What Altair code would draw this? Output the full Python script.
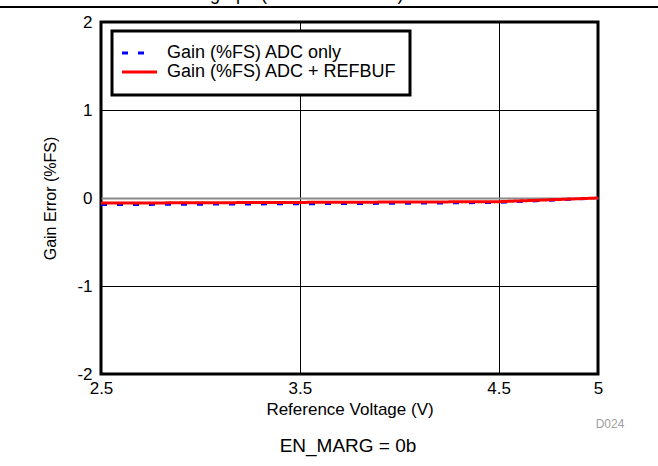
import altair as alt
import pandas as pd

# Data
vref = [2.5, 3.0, 3.5, 4.0, 4.5, 5.0]
gain_adc_only = [-0.075, -0.07, -0.065, -0.06, -0.05, 0.0]
gain_adc_refbuf = [-0.058, -0.054, -0.05, -0.046, -0.042, 0.0]
series_names = ["Gain (%FS) ADC only", "Gain (%FS) ADC + REFBUF"]
series_colors = ["#0000ff", "#ff0000"]
x_ticks = [2.5, 3.5, 4.5, 5]
y_ticks = [-2, -1, 0, 1, 2]

rows = []
for x, y in zip(vref, gain_adc_only):
    rows.append({"vref": x, "gain": y, "series": series_names[0]})
for x, y in zip(vref, gain_adc_refbuf):
    rows.append({"vref": x, "gain": y, "series": series_names[1]})
df = pd.DataFrame(rows)

FONT = "Liberation Sans"
W, H = 497, 352

xenc = alt.X("vref:Q", scale=alt.Scale(domain=[2.5, 5], nice=False, zero=False),
             axis=alt.Axis(values=x_ticks, labelExpr="'' + datum.value", title="Reference Voltage (V)",
                           ticks=False, domain=False, labelPadding=6, labelFlush=False, titlePadding=5,
                           labelFontSize=17, titleFontSize=17, labelFont=FONT, titleFont=FONT,
                           titleFontWeight="normal", labelColor="black", titleColor="black",
                           gridColor="black", gridWidth=1))
yenc = alt.Y("gain:Q", scale=alt.Scale(domain=[-2, 2], nice=False),
             axis=alt.Axis(values=y_ticks, labelExpr="'' + datum.value", title="Gain Error (%FS)",
                           ticks=False, domain=False, labelPadding=9, labelFlush=False, titlePadding=18,
                           labelFontSize=17, titleFontSize=16, labelFont=FONT, titleFont=FONT,
                           titleFontWeight="normal", labelColor="black", titleColor="black",
                           gridColor=alt.condition("datum.value === 0", alt.value("#8a8a8a"), alt.value("black")),
                           gridWidth=alt.condition("datum.value === 0", alt.value(2), alt.value(1))))

color = alt.Color("series:N", scale=alt.Scale(domain=series_names, range=series_colors), legend=None)
dash = alt.StrokeDash("series:N", scale=alt.Scale(domain=series_names, range=[[6, 10], [1, 0]]), legend=None)

blue = alt.Chart(df).transform_filter(alt.datum.series == series_names[0]).mark_line(
    strokeWidth=3, clip=True).encode(x=xenc, y=yenc, color=color, strokeDash=dash)
red = alt.Chart(df).transform_filter(alt.datum.series == series_names[1]).mark_line(
    strokeWidth=3, clip=True).encode(x=xenc, y=yenc, color=color, strokeDash=dash)

one = pd.DataFrame({"a": [0]})
# legend (drawn in pixel space, as a boxed key)
legend_box = alt.Chart(one).mark_rect(fill="white", stroke="black", strokeWidth=3).encode(
    x=alt.value(11), x2=alt.value(309), y=alt.value(9), y2=alt.value(73))
leg_sym1 = alt.Chart(one).mark_rule(color=series_colors[0], strokeWidth=3, strokeDash=[6, 10]).encode(
    x=alt.value(21), x2=alt.value(44), y=alt.value(31))
leg_sym2 = alt.Chart(one).mark_rule(color=series_colors[1], strokeWidth=3).encode(
    x=alt.value(21), x2=alt.value(56), y=alt.value(50))
leg_txt1 = alt.Chart(pd.DataFrame({"t": [series_names[0]]})).mark_text(
    align="left", baseline="middle", font=FONT, fontSize=18, color="black").encode(
    text="t:N", x=alt.value(66), y=alt.value(31))
leg_txt2 = alt.Chart(pd.DataFrame({"t": [series_names[1]]})).mark_text(
    align="left", baseline="middle", font=FONT, fontSize=18, color="black").encode(
    text="t:N", x=alt.value(66), y=alt.value(50))

top_rule = alt.Chart(one).mark_rule(color="black", strokeWidth=2).encode(
    x=alt.value(-101), x2=alt.value(557), y=alt.value(-15))
top_text = alt.Chart(pd.DataFrame({"t": ["Gain Error graph (ADC + REFBUF)"]})).mark_text(
    align="left", baseline="alphabetic", font=FONT, fontSize=18, color="black").encode(
    text="t:N", x=alt.value(21), y=alt.value(-22))
d_text = alt.Chart(pd.DataFrame({"t": ["D024"]})).mark_text(
    align="center", baseline="middle", font=FONT, fontSize=12, color="#a0a0a0").encode(
    text="t:N", x=alt.value(509), y=alt.value(402))
en_text = alt.Chart(pd.DataFrame({"t": ["EN_MARG = 0b"]})).mark_text(
    align="center", baseline="middle", font=FONT, fontSize=19, color="black").encode(
    text="t:N", x=alt.value(247), y=alt.value(424))

chart = alt.layer(blue, red, legend_box, leg_sym1, leg_sym2, leg_txt1, leg_txt2,
                  top_rule, top_text, d_text, en_text).properties(
    width=W, height=H, autosize="none",
    padding={"left": 101, "top": 22, "right": 60, "bottom": 92},
    background="white"
).configure_view(stroke="black", strokeWidth=3).configure_axis(grid=True)

chart.save("out.html", embed_options={"renderer": "svg", "actions": False})
